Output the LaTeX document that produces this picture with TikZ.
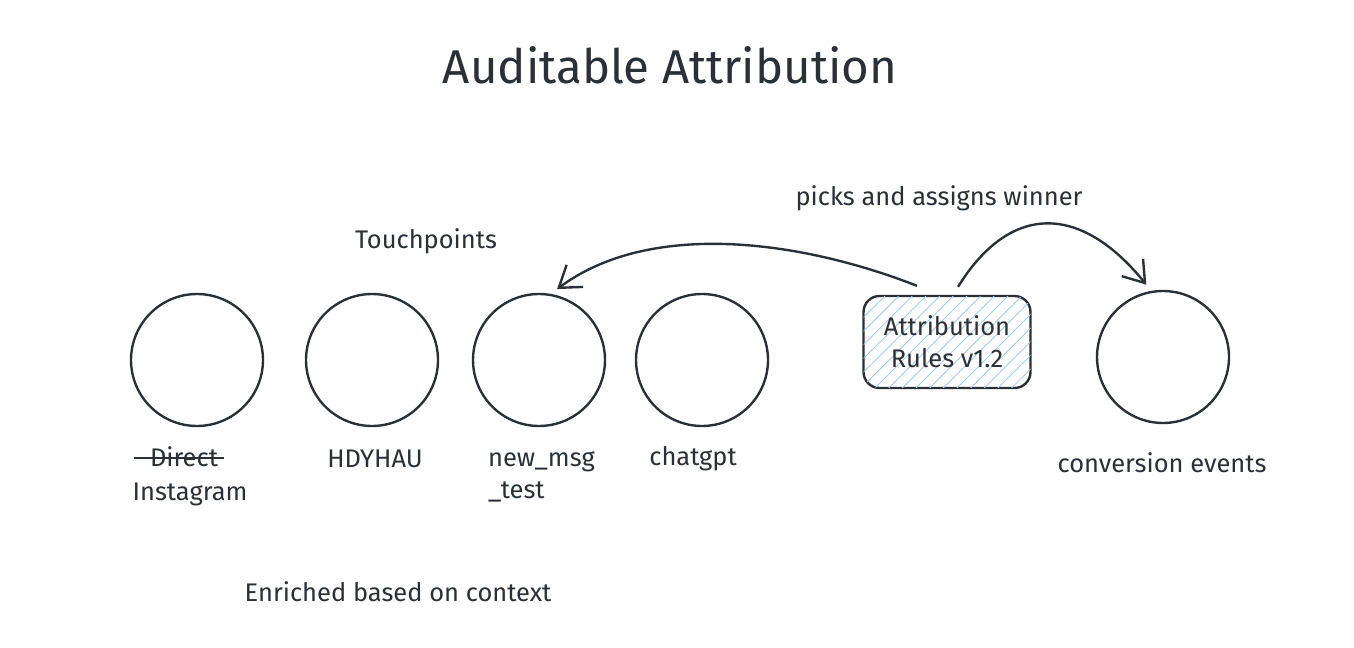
\documentclass[tikz,border=0pt]{standalone}
\usepackage{fontspec}
\setmainfont{Fira Sans}
\usetikzlibrary{arrows.meta, positioning, calc, patterns.meta}
\usepackage{xcolor}
\definecolor{ink}{RGB}{44,48,52}
\definecolor{hatch}{RGB}{160,204,244}

\tikzset{
    touch/.style={circle, draw=ink, line width=1.35pt, minimum size=2.64cm, inner sep=0pt},
    rulesbox/.style={draw=ink, line width=1.35pt, rounded corners=0.32cm,
        minimum width=3.34cm, minimum height=1.84cm, align=center,
        fill=white, postaction={pattern={Lines[angle=45, distance=5.5pt, line width=0.5pt]}, pattern color=hatch},
        font=\fontsize{14.5}{18}\selectfont, text=ink},
    lbl/.style={text=ink, font=\fontsize{14.5}{18}\selectfont, inner sep=1pt},
    flow/.style={draw=ink, line width=1.35pt, -{Straight Barb[length=4mm, width=5.5mm, line width=1.35pt]}, shorten >=0.16cm}
}

\begin{document}
\begin{tikzpicture}[x=0.02cm, y=-0.02cm]
    \fill[white] (0,0) rectangle (1354,648);
    \useasboundingbox (0,0) rectangle (1354,648);

    % title
    \node[text=ink, font=\fontsize{27}{32}\selectfont] (title) at (670,65) {Auditable Attribution};

    % touchpoints
    \node[touch] (c1) at (197,360) {};
    \node[touch] (c2) at (372,360) {};
    \node[touch] (c3) at (539,360) {};
    \node[touch] (c4) at (702,360) {};
    \node[touch] (conv) at (1163,357) {};

    \node[rulesbox] (rules) at (947,342) {Attribution\\Rules v1.2};

    % labels
    \node[lbl] (touchlbl) at (426,241) {Touchpoints};
    \node[lbl] (picklbl) at (939,198) {picks and assigns winner};
    \node[lbl] (direct) at (184,457) {Direct};
    \draw[ink, line width=1.35pt] ($(direct.west)+(-14,1)$) -- ($(direct.east)+(4,1)$);
    \node[lbl] (insta) at (190,494) {Instagram};
    \node[lbl] (hdy) at (375,459) {HDYHAU};
    \node[lbl, align=left, anchor=west] (newmsg) at (486,477) {new\_msg\\\_test};
    \node[lbl] (chat) at (693,459) {chatgpt};
    \node[lbl] (convlbl) at (1162,463) {conversion events};
    \node[lbl] (enrich) at (398,592) {Enriched based on context};

    % arrows
    \coordinate (outleft) at ($(rules.north)+(-30,-9)$);
    \coordinate (outright) at ($(rules.north)+(11,-8)$);
    \draw[flow] (outleft) .. controls (800,240) and (650,220) .. (c3.80);
    \draw[flow] (outright) .. controls (1010,203) and (1080,203) .. (conv.100);
\end{tikzpicture}
\end{document}
